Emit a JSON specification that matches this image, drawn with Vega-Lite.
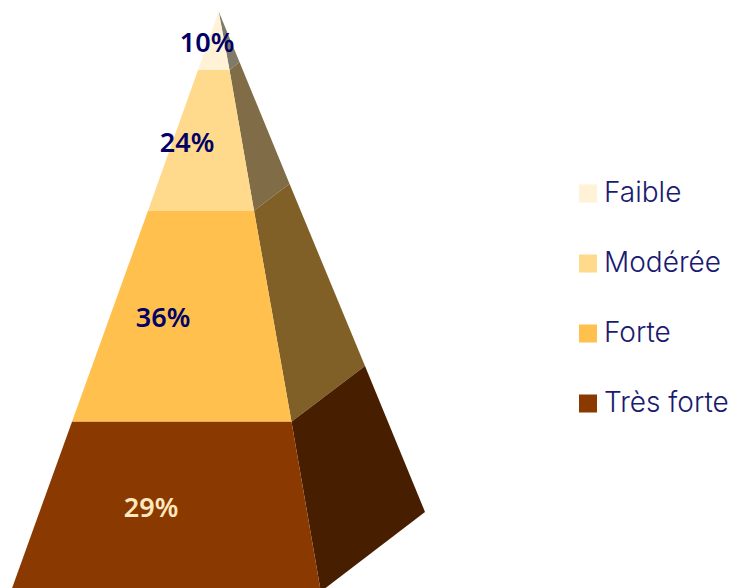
{"$schema":"https://vega.github.io/schema/vega-lite/v6.json","width":734,"height":588,"autosize":{"type":"fit","contains":"padding"},"padding":0,"background":"white",
"config":{"view":{"stroke":null}},
"datasets":{"sommets":[
{"niveau":"Faible","face":"avant","i":0,"x":0,"n":0},{"niveau":"Faible","face":"avant","i":1,"x":10.8,"n":10},{"niveau":"Faible","face":"avant","i":2,"x":-20.7,"n":10},
{"niveau":"Modérée","face":"avant","i":0,"x":-20.7,"n":10},{"niveau":"Modérée","face":"avant","i":1,"x":10.8,"n":10},{"niveau":"Modérée","face":"avant","i":2,"x":35.3,"n":34},{"niveau":"Modérée","face":"avant","i":3,"x":-70.7,"n":34},
{"niveau":"Forte","face":"avant","i":0,"x":-70.7,"n":34},{"niveau":"Forte","face":"avant","i":1,"x":35.3,"n":34},{"niveau":"Forte","face":"avant","i":2,"x":72.8,"n":70},{"niveau":"Forte","face":"avant","i":3,"x":-146.7,"n":70},
{"niveau":"Très forte","face":"avant","i":0,"x":-146.7,"n":70},{"niveau":"Très forte","face":"avant","i":1,"x":72.8,"n":70},{"niveau":"Très forte","face":"avant","i":2,"x":102.1,"n":99},{"niveau":"Très forte","face":"avant","i":3,"x":-207.9,"n":99},
{"niveau":"Faible","face":"côté","i":0,"x":0,"n":0},{"niveau":"Faible","face":"côté","i":1,"x":20.8,"n":8.62},{"niveau":"Faible","face":"côté","i":2,"x":10.8,"n":10},
{"niveau":"Modérée","face":"côté","i":0,"x":10.8,"n":10},{"niveau":"Modérée","face":"côté","i":1,"x":20.8,"n":8.62},{"niveau":"Modérée","face":"côté","i":2,"x":70.8,"n":29.4},{"niveau":"Modérée","face":"côté","i":3,"x":35.3,"n":34},
{"niveau":"Forte","face":"côté","i":0,"x":35.3,"n":34},{"niveau":"Forte","face":"côté","i":1,"x":70.8,"n":29.4},{"niveau":"Forte","face":"côté","i":2,"x":146.3,"n":60.5},{"niveau":"Forte","face":"côté","i":3,"x":72.8,"n":70},
{"niveau":"Très forte","face":"côté","i":0,"x":72.8,"n":70},{"niveau":"Très forte","face":"côté","i":1,"x":146.3,"n":60.5},{"niveau":"Très forte","face":"côté","i":2,"x":206.3,"n":85.4},{"niveau":"Très forte","face":"côté","i":3,"x":102.1,"n":99}
],"parts":[
{"niveau":"Faible","part":0.10,"x":-11.7,"n":5.6},{"niveau":"Modérée","part":0.24,"x":-31.7,"n":22.6},{"niveau":"Forte","part":0.36,"x":-55.7,"n":52.5},{"niveau":"Très forte","part":0.29,"x":-67.7,"n":84.9}
]},
"layer":[
{"data":{"name":"sommets"},"transform":[{"filter":"datum.face==='côté'"}],
"mark":{"type":"line","clip":true,"strokeWidth":0,"interpolate":"linear"},
"encoding":{"x":{"field":"x","type":"quantitative","scale":{"domain":[-218.7,515.3],"nice":false,"zero":false},"axis":null},
"y":{"field":"n","type":"quantitative","scale":{"domain":[-1.96,98.38],"reverse":true,"nice":false,"zero":false},"axis":null},
"order":{"field":"i"},"detail":{"field":"niveau"},
"fill":{"field":"niveau","type":"nominal","legend":null,"scale":{"domain":["Faible","Modérée","Forte","Très forte"],"range":["#807A6B","#806C46","#806026","#471E00"]}}}},
{"data":{"name":"sommets"},"transform":[{"filter":"datum.face==='avant'"}],
"mark":{"type":"line","clip":true,"strokeWidth":0,"interpolate":"linear"},
"encoding":{"x":{"field":"x","type":"quantitative","axis":null},
"y":{"field":"n","type":"quantitative","axis":null},
"order":{"field":"i"},"detail":{"field":"niveau"},
"fill":{"field":"niveau","type":"nominal","scale":{"domain":["Faible","Modérée","Forte","Très forte"],"range":["#FFF2D6","#FFD98C","#FFC04D","#8A3A00"]},
"legend":{"title":null,"orient":"none","legendX":574,"legendY":178.5,"symbolType":"square","symbolSize":324,"symbolStrokeWidth":0,"symbolFillColor":"#000","labelFont":"Inter","labelFontWeight":300,"labelFontSize":28,"labelColor":"#1A1A70","labelLimit":200,"labelOffset":2,"rowPadding":40,"clipHeight":30}}}},
{"data":{"name":"parts"},"mark":{"type":"text","font":"Noto Sans","fontWeight":600,"fontSize":27,"align":"center","baseline":"middle"},
"encoding":{"x":{"field":"x","type":"quantitative","axis":null},"y":{"field":"n","type":"quantitative","axis":null},
"text":{"field":"part","type":"quantitative","format":".0%"},
"color":{"condition":{"test":"datum.part===0.29","value":"#FFE8BE"},"value":"#000066"}}}
],
"resolve":{"scale":{"fill":"independent"}}}
